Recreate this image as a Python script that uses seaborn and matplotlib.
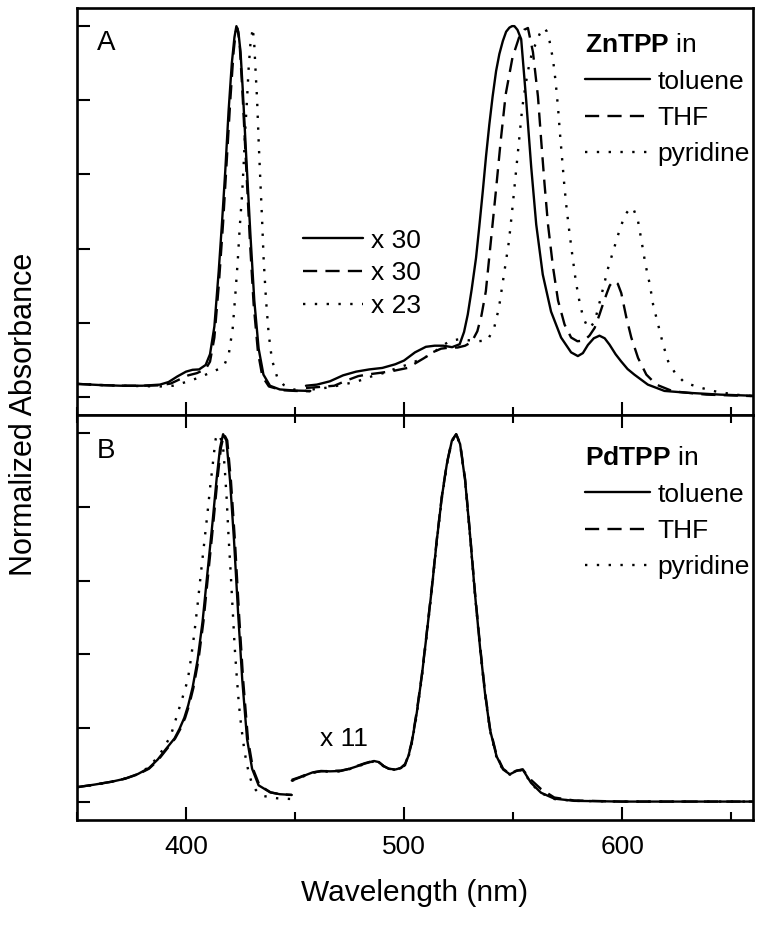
# =====================================
# ZnTPP / PdTPP - ABSORVÂNCIA NORMALIZADA
# =====================================

import matplotlib
matplotlib.use("Agg")
import matplotlib.pyplot as plt
import pandas as pd
import seaborn as sns
from matplotlib.lines import Line2D
from matplotlib.ticker import MultipleLocator

# =========================
# DADOS - PAINEL A (ZnTPP)
# =========================

solventes = ["toluene", "THF", "pyridine"]
fatores_zn = ["x 30", "x 30", "x 23"]

# banda de Soret
wl_zn_tol_s = [350, 360, 370, 380, 388, 392, 396, 400, 403, 406, 409, 411, 413, 415, 416.5,
               418, 419.5, 421, 422.2, 423.1, 424, 425, 426, 427.5, 429.5, 431.3, 433.3,
               435.5, 438.5, 443, 450, 457]
ab_zn_tol_s = [0.035, 0.032, 0.030, 0.030, 0.033, 0.040, 0.055, 0.068, 0.073, 0.074, 0.086,
               0.115, 0.19, 0.34, 0.47, 0.61, 0.77, 0.90, 0.97, 1.0, 0.985, 0.93, 0.83, 0.66,
               0.44, 0.26, 0.13, 0.06, 0.03, 0.02, 0.017, 0.016]

wl_zn_thf_s = [350, 360, 370, 380, 388, 393, 397, 401, 405, 409, 411, 413, 415, 417, 418.7,
               420.3, 421.8, 422.8, 423.5, 424.5, 425.8, 427.5, 429.3, 431, 433, 435, 438,
               444, 450, 457]
ab_zn_thf_s = [0.035, 0.032, 0.030, 0.030, 0.031, 0.036, 0.047, 0.058, 0.064, 0.075, 0.095,
               0.16, 0.30, 0.47, 0.64, 0.80, 0.93, 0.985, 0.995, 0.96, 0.83, 0.63, 0.42, 0.25,
               0.12, 0.055, 0.028, 0.018, 0.016, 0.015]

wl_zn_pyr_s = [350, 360, 370, 380, 388, 394, 400, 406, 411, 415, 417.5, 419.6, 421.4, 422.6,
               423.7, 424.6, 425.7, 426.5, 427.2, 428, 428.7, 429.5, 430.6, 431.3, 431.8,
               432.6, 433.3, 434.1, 434.9, 435.6, 436.7, 437.9, 439.4, 441.7, 444.8, 449.4, 455]
ab_zn_pyr_s = [0.035, 0.032, 0.030, 0.029, 0.028, 0.030, 0.040, 0.052, 0.065, 0.075, 0.085,
               0.115, 0.185, 0.275, 0.365, 0.455, 0.545, 0.635, 0.725, 0.805, 0.885, 0.95,
               0.995, 0.95, 0.89, 0.80, 0.69, 0.58, 0.475, 0.37, 0.26, 0.17, 0.10, 0.055,
               0.032, 0.02, 0.016]

# bandas Q (ampliadas)
wl_zn_tol_q = [455, 460, 466, 472, 478, 484, 490, 496, 500, 505, 510, 514, 518, 522, 525.5,
               527.5, 529.2, 531, 533, 534.5, 536.1, 537.6, 539.1, 540.6, 542.2, 543.7, 545.3,
               546.8, 548.3, 549.5, 550.6, 552, 553.7, 556, 558.3, 560.6, 563.6, 567.4, 572,
               576.6, 579.7, 582, 584.3, 587, 589.6, 592, 594.2, 597, 599.5, 602.5, 605.6,
               611.8, 619.4, 630, 645, 660]
ab_zn_tol_q = [0.030, 0.033, 0.042, 0.058, 0.068, 0.074, 0.078, 0.088, 0.098, 0.12, 0.135,
               0.138, 0.138, 0.134, 0.142, 0.175, 0.222, 0.29, 0.375, 0.46, 0.555, 0.65, 0.735,
               0.81, 0.879, 0.925, 0.96, 0.985, 0.996, 1.0, 1.0, 0.99, 0.965, 0.80, 0.62,
               0.465, 0.33, 0.23, 0.16, 0.12, 0.11, 0.118, 0.14, 0.158, 0.165, 0.158, 0.141,
               0.115, 0.096, 0.075, 0.06, 0.033, 0.016, 0.011, 0.006, 0.003]

wl_zn_thf_q = [455, 462, 468, 474, 479, 484, 489.4, 495, 501.6, 505, 509.3, 513, 517, 521,
               524.5, 528, 531, 533.6, 535.5, 537.5, 539.8, 542.1, 544.3, 546.6, 549.7, 552.7,
               555, 556.8, 559.1, 561.4, 562.9, 564.4, 566, 568.3, 570.6, 573.6, 576.6, 579.5,
               582.5, 585, 587.4, 589.5, 591.2, 593, 594.3, 595.6, 596.6, 598, 599.6, 601.9,
               604.2, 607.3, 611.1, 615.7, 623.3, 638.6, 660]
ab_zn_thf_q = [0.024, 0.027, 0.030, 0.045, 0.056, 0.061, 0.065, 0.070, 0.078, 0.090, 0.105,
               0.120, 0.130, 0.133, 0.133, 0.138, 0.148, 0.177, 0.220, 0.285, 0.420, 0.555,
               0.690, 0.816, 0.915, 0.969, 0.99, 0.995, 0.93, 0.81, 0.69, 0.575, 0.465, 0.35,
               0.26, 0.195, 0.16, 0.15, 0.152, 0.165, 0.186, 0.22, 0.25, 0.28, 0.30, 0.31,
               0.312, 0.305, 0.28, 0.215, 0.16, 0.105, 0.06, 0.033, 0.015, 0.006, 0.002]

wl_zn_pyr_q = [458, 465, 472, 478.7, 485, 491, 496, 501.6, 505, 509.3, 514, 518.4, 521.4, 525,
               529, 533.6, 538.2, 541.3, 543.5, 545.8, 548.1, 549.7, 551.2, 552.7, 554.2,
               555.8, 557.5, 559, 560.6, 562.1, 563.3, 564.4, 565.5, 566.7, 568.3, 569.5,
               570.6, 571.5, 572.5, 573.5, 574.5, 575.7, 577.2, 578.8, 580.5, 582.1, 583.6,
               585.2, 587.5, 589.8, 593.6, 598.2, 601.2, 603.2, 605, 607.3, 608.9, 610.7,
               612.7, 614.2, 616.5, 618.8, 621.1, 624.2, 628.7, 636.4, 642.5, 651.7, 660]
ab_zn_pyr_q = [0.020, 0.025, 0.033, 0.042, 0.055, 0.065, 0.076, 0.087, 0.095, 0.105, 0.122,
               0.141, 0.152, 0.155, 0.153, 0.150, 0.152, 0.186, 0.240, 0.330, 0.420, 0.510,
               0.600, 0.690, 0.780, 0.845, 0.900, 0.935, 0.955, 0.978, 0.990, 0.995, 0.985,
               0.960, 0.910, 0.850, 0.780, 0.710, 0.640, 0.570, 0.510, 0.450, 0.380, 0.310,
               0.255, 0.215, 0.195, 0.185, 0.205, 0.258, 0.348, 0.438, 0.490, 0.505, 0.510,
               0.474, 0.420, 0.357, 0.303, 0.249, 0.195, 0.141, 0.096, 0.065, 0.038, 0.024,
               0.015, 0.006, 0.002]

# =========================
# DADOS - PAINEL B (PdTPP)
# =========================

fator_pd = "x 11"

wl_pd_tol_s = [350, 358, 366, 372, 378, 383, 387, 391, 394.7, 397, 399.2, 401, 403, 405.3,
               407.6, 409.8, 412.1, 414.1, 415.6, 417, 418.5, 420.2, 422, 423.9, 425.8, 428,
               430.3, 433.3, 438.6, 443, 448.5]
ab_pd_tol_s = [0.040, 0.047, 0.055, 0.063, 0.076, 0.092, 0.115, 0.145, 0.172, 0.198, 0.228,
               0.262, 0.31, 0.385, 0.49, 0.62, 0.755, 0.88, 0.96, 0.997, 0.98, 0.87, 0.71,
               0.51, 0.33, 0.17, 0.09, 0.045, 0.026, 0.021, 0.019]

wl_pd_thf_s = [350, 358, 366, 372, 378, 383, 387, 391, 395, 397.4, 399.6, 401.4, 403.4, 405.7,
               408, 410.2, 412.5, 414.5, 416, 417.4, 418.9, 420.6, 422.4, 424.3, 426.2, 428.4,
               430.7, 433.7, 438.8, 443, 448.5]
ab_pd_thf_s = [0.040, 0.047, 0.055, 0.063, 0.075, 0.090, 0.112, 0.142, 0.172, 0.198, 0.228,
               0.262, 0.31, 0.385, 0.49, 0.62, 0.755, 0.88, 0.96, 0.997, 0.98, 0.87, 0.71,
               0.51, 0.33, 0.17, 0.09, 0.045, 0.026, 0.021, 0.019]

wl_pd_pyr_s = [350, 360, 370, 377, 382.6, 386, 389.4, 393, 396.2, 398.5, 400.8, 402.3, 403.8,
               405.3, 406.8, 408.3, 409.8, 411, 412.1, 413, 413.6, 414.4, 415.2, 416.2, 417,
               417.8, 418.6, 419.5, 420.5, 421.4, 422.3, 423.2, 424.2, 425.3, 426.5, 427.6,
               428.8, 430.2, 431.8, 433.6, 435.6, 441.7, 448]
ab_pd_pyr_s = [0.040, 0.048, 0.060, 0.073, 0.093, 0.115, 0.142, 0.180, 0.241, 0.285, 0.331,
               0.390, 0.457, 0.535, 0.619, 0.700, 0.781, 0.850, 0.907, 0.955, 0.984, 0.997,
               0.995, 0.980, 0.961, 0.900, 0.826, 0.720, 0.619, 0.520, 0.421, 0.345, 0.268,
               0.205, 0.151, 0.110, 0.079, 0.050, 0.034, 0.022, 0.016, 0.010, 0.008]

wl_pd_q = [448.5, 452, 455.8, 458, 461.9, 466, 471, 475, 478.6, 482, 486.2, 488.5, 490.7, 493,
           496, 498.5, 500.5, 502, 503.5, 505.8, 508.1, 510.4, 512.8, 515, 517.3, 519.6,
           521.9, 523.9, 525.7, 528, 530.2, 532.5, 534.8, 537.1, 539.4, 542.4, 545.4, 548.5,
           551.5, 554.4, 558.2, 562.8, 568.9, 578, 600, 630, 660]
ab_pd_tol_q = [0.058, 0.066, 0.075, 0.080, 0.084, 0.083, 0.084, 0.090, 0.097, 0.104, 0.111,
               0.108, 0.097, 0.090, 0.088, 0.092, 0.102, 0.125, 0.160, 0.241, 0.340, 0.457,
               0.583, 0.709, 0.826, 0.916, 0.979, 0.997, 0.970, 0.871, 0.727, 0.565, 0.421,
               0.295, 0.196, 0.124, 0.088, 0.075, 0.084, 0.088, 0.052, 0.025, 0.009, 0.003,
               0.001, 0.001, 0.001]
ab_pd_thf_q = [0.060, 0.067, 0.076, 0.080, 0.083, 0.084, 0.085, 0.090, 0.098, 0.105, 0.112,
               0.107, 0.097, 0.090, 0.087, 0.092, 0.103, 0.127, 0.163, 0.245, 0.343, 0.460,
               0.586, 0.712, 0.828, 0.918, 0.980, 0.997, 0.972, 0.875, 0.732, 0.570, 0.426,
               0.300, 0.200, 0.127, 0.090, 0.076, 0.085, 0.088, 0.060, 0.035, 0.012, 0.004,
               0.001, 0.001, 0.001]
ab_pd_pyr_q = [0.057, 0.065, 0.074, 0.079, 0.083, 0.082, 0.083, 0.089, 0.096, 0.103, 0.110,
               0.107, 0.096, 0.089, 0.087, 0.091, 0.100, 0.122, 0.157, 0.236, 0.335, 0.452,
               0.578, 0.705, 0.822, 0.913, 0.977, 0.996, 0.968, 0.868, 0.724, 0.562, 0.418,
               0.292, 0.193, 0.121, 0.086, 0.074, 0.083, 0.087, 0.050, 0.024, 0.008, 0.003,
               0.001, 0.001, 0.001]

# =========================
# TABELAS PARA O SEABORN
# =========================

def tabela(segmentos):
    partes = []
    for i, (wl, ab, solv) in enumerate(segmentos):
        partes.append(pd.DataFrame({"wl": wl, "ab": ab, "solvent": solv, "seg": i}))
    return pd.concat(partes, ignore_index=True)

df_zn = tabela([
    (wl_zn_tol_s, ab_zn_tol_s, "toluene"),
    (wl_zn_thf_s, ab_zn_thf_s, "THF"),
    (wl_zn_pyr_s, ab_zn_pyr_s, "pyridine"),
    (wl_zn_tol_q, ab_zn_tol_q, "toluene"),
    (wl_zn_thf_q, ab_zn_thf_q, "THF"),
    (wl_zn_pyr_q, ab_zn_pyr_q, "pyridine"),
])

df_pd = tabela([
    (wl_pd_tol_s, ab_pd_tol_s, "toluene"),
    (wl_pd_thf_s, ab_pd_thf_s, "THF"),
    (wl_pd_pyr_s, ab_pd_pyr_s, "pyridine"),
    (wl_pd_q, ab_pd_tol_q, "toluene"),
    (wl_pd_q, ab_pd_thf_q, "THF"),
    (wl_pd_q, ab_pd_pyr_q, "pyridine"),
])

# =========================
# ESTILO
# =========================

sns.set_theme(style="ticks")
plt.rcParams["font.family"] = ["Liberation Sans", "DejaVu Sans"]
plt.rcParams["mathtext.fontset"] = "custom"
plt.rcParams["mathtext.rm"] = "Liberation Sans"
plt.rcParams["mathtext.bf"] = "Liberation Sans:bold"
plt.rcParams["text.color"] = "black"
plt.rcParams["axes.labelcolor"] = "black"
plt.rcParams["xtick.color"] = "black"
plt.rcParams["ytick.color"] = "black"

LW = 1.7
FS = 19
tracos = {"toluene": "", "THF": (6, 3.5), "pyridine": (1, 4)}
estilos_leg = {"toluene": "-", "THF": (0, (6, 3.5)), "pyridine": (0, (1, 4))}

# =========================
# FIGURA
# =========================

fig = plt.figure(figsize=(7.67, 9.27), dpi=100)
ax_a = fig.add_axes([0.1004, 0.5523, 0.8813, 0.4391])
ax_b = fig.add_axes([0.1004, 0.1154, 0.8813, 0.4369])

for ax, df in [(ax_a, df_zn), (ax_b, df_pd)]:
    sns.lineplot(data=df, x="wl", y="ab", units="seg", style="solvent",
                 style_order=solventes, dashes=tracos, estimator=None, sort=False,
                 color="black", linewidth=LW, legend=False, ax=ax)
    ax.set_xlim(350, 660)
    ax.set_ylim(-0.049, 1.049)
    ax.xaxis.set_major_locator(MultipleLocator(100))
    ax.xaxis.set_minor_locator(MultipleLocator(50))
    ax.yaxis.set_major_locator(MultipleLocator(0.2))
    ax.tick_params(which="both", direction="in", width=1.5, color="black",
                   left=True, right=False, labelleft=False, labelsize=FS, pad=11)
    ax.tick_params(which="major", length=9.5)
    ax.tick_params(which="minor", length=6)
    ax.set_xlabel("")
    ax.set_ylabel("")
    for sp in ax.spines.values():
        sp.set_linewidth(1.9)
        sp.set_color("black")

ax_a.tick_params(which="both", top=False, bottom=True, labelbottom=False)
ax_b.tick_params(which="both", top=True, bottom=True, labelbottom=True)
ax_b.set_xticks([400, 500, 600])

# =========================
# TEXTOS
# =========================

ax_a.text(0.029, 0.914, "A", transform=ax_a.transAxes, fontsize=FS + 1, ha="left", va="center")
ax_b.text(0.029, 0.911, "B", transform=ax_b.transAxes, fontsize=FS + 1, ha="left", va="center")
ax_b.text(472.5, 0.17, fator_pd, fontsize=FS, ha="center", va="center")

ax_b.set_xlabel("Wavelength (nm)", fontsize=21.5, labelpad=14)
fig.text(0.031, 0.553, "Normalized Absorbance", rotation=90, fontsize=22,
         ha="center", va="center")

# =========================
# LEGENDAS
# =========================

def proxies():
    return [Line2D([], [], color="black", lw=LW, linestyle=estilos_leg[s]) for s in solventes]

leg_a = ax_a.legend(proxies(), solventes, loc="upper left", bbox_to_anchor=(0.7515, 0.938),
                    frameon=False, fontsize=FS, title=r"$\bf{ZnTPP}$ in", title_fontsize=FS,
                    alignment="left", handlelength=2.45, handletextpad=0.3, labelspacing=0.46,
                    borderpad=0, borderaxespad=0)
leg_a._legend_box.sep = 9
ax_a.add_artist(leg_a)

ax_a.legend(proxies(), fatores_zn, loc="upper left", bbox_to_anchor=(0.334, 0.458),
            frameon=False, fontsize=FS, handlelength=2.3, handletextpad=0.3,
            labelspacing=0.33, borderpad=0, borderaxespad=0)

leg_b = ax_b.legend(proxies(), solventes, loc="upper left", bbox_to_anchor=(0.7515, 0.923),
                    frameon=False, fontsize=FS, title=r"$\bf{PdTPP}$ in", title_fontsize=FS,
                    alignment="left", handlelength=2.45, handletextpad=0.3, labelspacing=0.46,
                    borderpad=0, borderaxespad=0)
leg_b._legend_box.sep = 9

fig.savefig("out.png", dpi=100)
